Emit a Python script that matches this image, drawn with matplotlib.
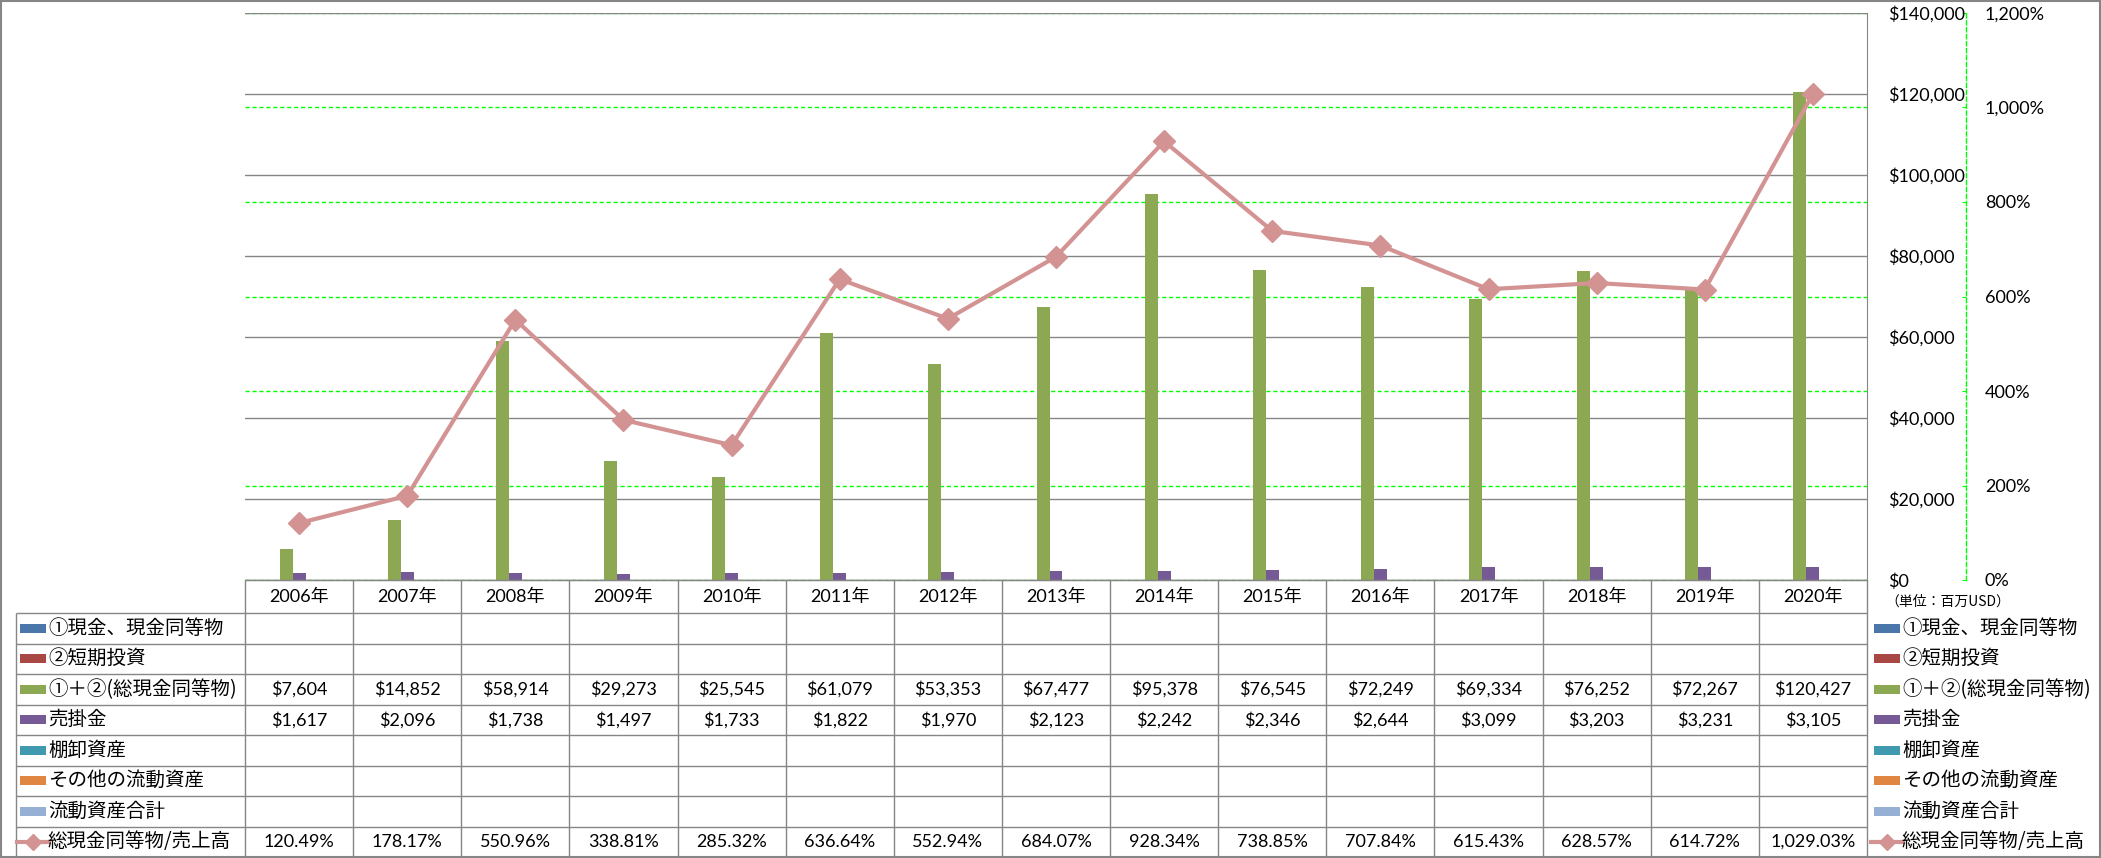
import numpy as np
import matplotlib
matplotlib.use('Agg')
import matplotlib.pyplot as plt
from matplotlib.patches import Rectangle
from matplotlib.ticker import FuncFormatter, MultipleLocator

plt.rcParams['font.family'] = ['Lato', 'Noto Sans CJK JP', 'DejaVu Sans']
JP = ['Noto Sans CJK JP', 'DejaVu Sans']

# データ (単位: 百万USD)
years = ['2006年', '2007年', '2008年', '2009年', '2010年', '2011年', '2012年', '2013年',
         '2014年', '2015年', '2016年', '2017年', '2018年', '2019年', '2020年']
cash_equiv = [np.nan] * 15
short_inv = [np.nan] * 15
total_cash = [7604, 14852, 58914, 29273, 25545, 61079, 53353, 67477,
              95378, 76545, 72249, 69334, 76252, 72267, 120427]
receivables = [1617, 2096, 1738, 1497, 1733, 1822, 1970, 2123,
               2242, 2346, 2644, 3099, 3203, 3231, 3105]
inventory = [np.nan] * 15
other_assets = [np.nan] * 15
current_total = [np.nan] * 15
ratio = [120.49, 178.17, 550.96, 338.81, 285.32, 636.64, 552.94, 684.07,
         928.34, 738.85, 707.84, 615.43, 628.57, 614.72, 1029.03]

names = ['①現金、現金同等物', '②短期投資', '①＋②(総現金同等物)', '売掛金',
         '棚卸資産', 'その他の流動資産', '流動資産合計']
series = [cash_equiv, short_inv, total_cash, receivables, inventory, other_assets, current_total]
colors = ['#4A76AA', '#A94744', '#8CA852', '#755A96', '#3F9AB0', '#DE8642', '#96AFD5']
line_name = '総現金同等物/売上高'
line_color = '#D49393'

W, H = 2101, 858
fig = plt.figure(figsize=(W / 100, H / 100), dpi=100)

# プロット領域 (ピクセル)
pl, pr, pt, pb = 245, 1867, 13, 580
rect = [pl / W, 1 - pb / H, (pr - pl) / W, (pb - pt) / H]
x = np.arange(len(years))
grey = '#868686'
green = '#00FF00'

# 第2軸 (背面: 緑の破線グリッド)
ax2 = fig.add_axes(rect)
ax2.set_xlim(-0.5, len(years) - 0.5)
ax2.set_ylim(0, 1200)
ax2.yaxis.set_major_locator(MultipleLocator(200))
ax2.yaxis.tick_right()
ax2.yaxis.set_major_formatter(FuncFormatter(lambda v, p: f'{v:,.0f}%'))
ax2.yaxis.grid(True, color=green, linestyle=(0, (3, 2)), lw=1)
ax2.tick_params(axis='y', direction='in', length=3, color=green, pad=13.5, labelsize=13)
ax2.set_xticks([])
for s in ['left', 'top', 'bottom']:
    ax2.spines[s].set_visible(False)
ax2.spines['right'].set_position(('outward', 71.3))
ax2.spines['right'].set_color(green)
ax2.spines['right'].set_linestyle((0, (3, 2)))
ax2.spines['right'].set_linewidth(1)

# 第1軸 (棒グラフ)
ax = fig.add_axes(rect)
ax.patch.set_visible(False)
ax.set_xlim(-0.5, len(years) - 0.5)
ax.set_ylim(0, 140000)
ax.yaxis.set_major_locator(MultipleLocator(20000))
ax.yaxis.tick_right()
ax.yaxis.set_major_formatter(FuncFormatter(lambda v, p: f'${v:,.0f}'))
ax.yaxis.grid(True, color=grey, lw=1)
ax.set_axisbelow(True)
ax.tick_params(axis='y', length=0, pad=15, labelsize=13)
ax.set_xticks([])
for s in ['left', 'top']:
    ax.spines[s].set_visible(False)
ax.spines['right'].set_color(grey)
ax.spines['bottom'].set_color(grey)

bw = 0.12
for k, (vals, c) in enumerate(zip(series, colors)):
    ax.bar(x + (k - 3) * bw, np.array(vals, dtype=float), width=bw, color=c, zorder=2)

# 折れ線 (第2軸スケール)
ax3 = fig.add_axes(rect)
ax3.set_xlim(-0.5, len(years) - 0.5)
ax3.set_ylim(0, 1200)
ax3.axis('off')
ax3.plot(x, ratio, color=line_color, lw=3, marker='D', ms=11.5, mec=line_color, mew=1,
         solid_joinstyle='round', clip_on=False)

# データテーブル
tab = fig.add_axes([0, 0, 1, 1], zorder=5)
tab.set_xlim(0, W)
tab.set_ylim(H, 0)
tab.axis('off')
tab.patch.set_visible(False)

col_w = (pr - pl) / len(years)
t_left = 16
r_top = 613
r_bot = 857
row_h = (r_bot - r_top) / 8

tab.hlines(pb, pl, pr, color=grey, lw=1)
for i in range(len(years) + 1):
    tab.vlines(pl + i * col_w, pb, r_bot, color=grey, lw=1)
tab.vlines(t_left, r_top, r_bot, color=grey, lw=1)
for r in range(9):
    tab.hlines(r_top + r * row_h, t_left, pr, color=grey, lw=1)

for i, yl in enumerate(years):
    tab.text(pl + (i + 0.5) * col_w, (pb + r_top) / 2, yl, ha='center', va='center', fontsize=13)

rows = list(zip(names, colors, series)) + [(line_name, line_color, ratio)]
for r, (nm, c, vals) in enumerate(rows):
    yc = r_top + (r + 0.5) * row_h
    for lx in (20, 1874):
        if r < 7:
            tab.add_patch(Rectangle((lx, yc - 4.5), 26, 9, color=c, lw=0))
        else:
            tab.plot([lx - 3, lx + 29], [yc, yc], color=c, lw=3)
            tab.plot(lx + 13, yc, marker='D', ms=8.5, color=c, mec=c, mew=1)
        tab.text(lx + 28, yc, nm, ha='left', va='center', fontsize=14, family=JP)
    for i, v in enumerate(vals):
        if v is None or np.isnan(v):
            continue
        s = f'{v:,.2f}%' if r == 7 else f'${v:,.0f}'
        tab.text(pl + (i + 0.5) * col_w, yc, s, ha='center', va='center', fontsize=13)

tab.text(1885, 602, '（単位：百万USD）', ha='left', va='center', fontsize=10, family=JP)

# 外枠
tab.add_patch(Rectangle((0.8, 1), W - 1.8, H - 2, fill=False, ec=grey, lw=1.5))

fig.savefig('out.png', dpi=100)
